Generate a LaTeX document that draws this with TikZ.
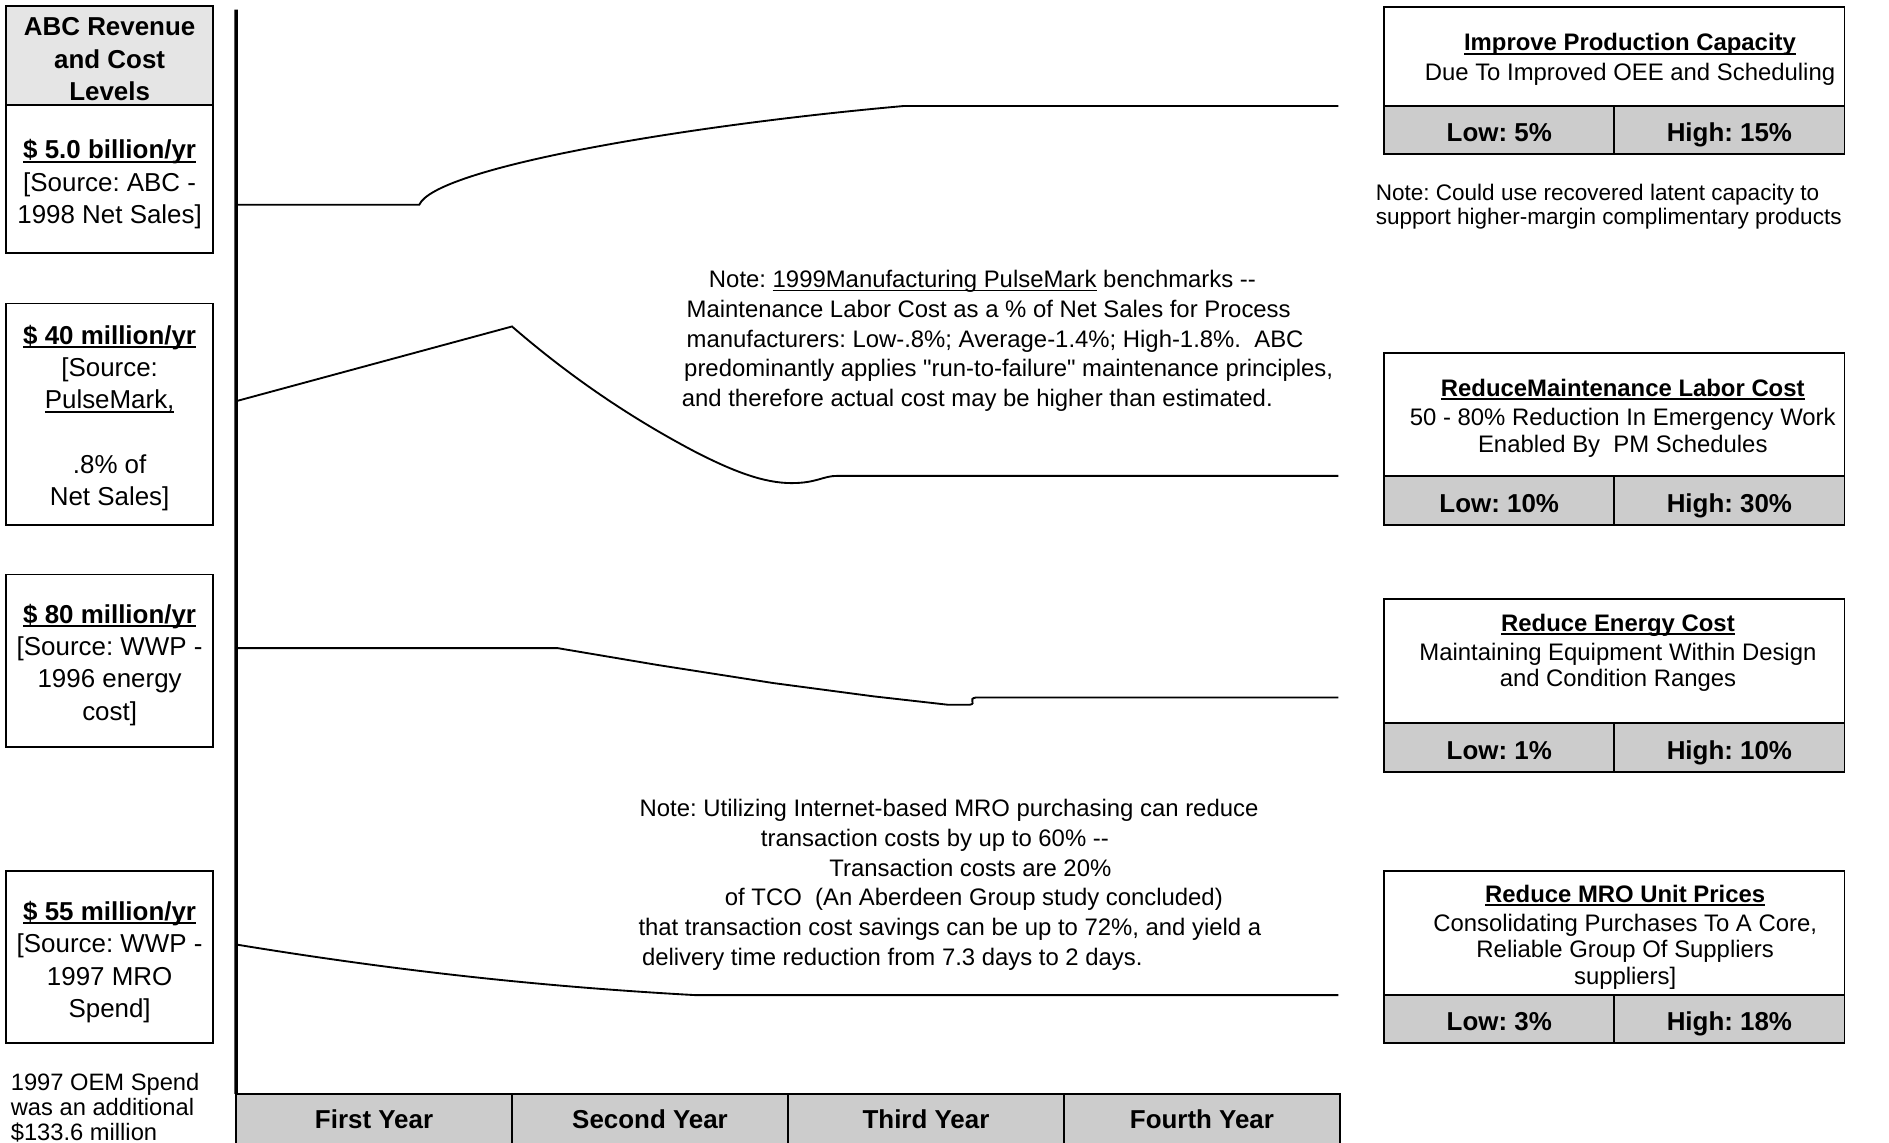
\documentclass[tikz,border=0pt]{standalone}
\usepackage{fontspec}
\setmainfont{Liberation Sans}
\usetikzlibrary{positioning}
\frenchspacing
\definecolor{cellgray}{gray}{0.8}
\definecolor{headgray}{gray}{0.9}
\newcommand{\bigsz}{\fontsize{15.3}{19.1}\selectfont}
\newcommand{\goalsz}{\fontsize{14.1}{15.8}\selectfont}
\newcommand{\notesz}{\fontsize{14.1}{17.6}\selectfont}
\newcommand{\undl}[1]{\leavevmode\setbox0\hbox{#1}\rlap{\rule[-2.3pt]{\wd0}{1.1pt}}\box0\relax}

\begin{document}
\begin{tikzpicture}[x=0.025cm,y=-0.025cm,
    every node/.style={inner sep=0pt,outer sep=0pt,align=center},
    levelbox/.style={draw,line width=1pt,minimum width=4.3cm},
    leveltext/.style={font=\bigsz},
    goalbox/.style={draw,line width=1pt,minimum width=9.55cm},
    goaltext/.style={font=\goalsz},
    pctcell/.style={draw,line width=1pt,fill=cellgray,minimum width=4.775cm,text height=13.8pt,text depth=0pt,font=\bigsz\bfseries},
    yearcell/.style={draw,line width=1pt,fill=cellgray,minimum width=5.725cm,minimum height=1.05cm,text height=11pt,text depth=0pt,font=\bigsz\bfseries},
    trend/.style={line width=1.1pt},
    note/.style={align=left,anchor=west}]
\useasboundingbox (0,0) rectangle (1568,948);

\node[levelbox,fill=headgray,minimum height=2.05cm] (head) at (91,46) {};
\node[leveltext,font=\bigsz\bfseries] (headtext) at ([yshift=-2.2pt]head.center) {ABC Revenue\\and Cost\\Levels};
\node[levelbox,minimum height=3.075cm,below=0pt of head] (sales) {};
\node[leveltext] (salestext) at ([yshift=-3.2pt]sales.center) {\undl{\textbf{\$ 5.0 billion/yr}}\\{}[Source: ABC -\\1998 Net Sales]};
\node[levelbox,minimum height=4.6cm] (labor) at (91,344) {};
\node[leveltext] (labortext) at ([yshift=-2.2pt]labor.center) {\undl{\textbf{\$ 40 million/yr}}\\{}[Source:\\\undl{PulseMark,}\\\mbox{}\\.8\% of\\Net Sales]};
\node[levelbox,minimum height=3.575cm] (energy) at (91,548.5) {};
\node[leveltext] (energytext) at ([yshift=-2.4pt]energy.center) {\undl{\textbf{\$ 80 million/yr}}\\{}[Source: WWP -\\1996 energy\\cost]};
\node[levelbox,minimum height=3.575cm] (mro) at (91,794.5) {};
\node[leveltext] (mrotext) at ([yshift=-2.8pt]mro.center) {\undl{\textbf{\$ 55 million/yr}}\\{}[Source: WWP -\\1997 MRO\\Spend]};
\node[note,font=\fontsize{14}{14.8}\selectfont] (oem) at (9,919.5) {1997 OEM Spend\\was an additional\\\$133.6 million};

\node[yearcell] (y1) at (310.5,929) {First Year};
\node[yearcell,right=0pt of y1] (y2) {Second Year};
\node[yearcell,right=0pt of y2] (y3) {Third Year};
\node[yearcell,right=0pt of y3] (y4) {Fourth Year};
\coordinate (axtop) at (196,8);
\draw[line width=2pt] (axtop) -- (y1.north west);

\coordinate (s0) at (196,170);
\coordinate (s1) at (1111,88);
\coordinate (l0) at (196,333);
\coordinate (l1) at (1111,395);
\coordinate (e0) at (196,538);
\coordinate (e1) at (1111,579);
\coordinate (m0) at (196,784);
\coordinate (m1) at (1111,826);
\draw[trend] (s0) -- (348,170) .. controls (361,140) and (560,105) .. (750,88) -- (s1);
\draw[trend] (l0) -- (425,271) .. controls (470,310) and (520,345) .. (577,375)
    .. controls (610,392) and (635,401) .. (657,401) .. controls (678,401) and (683,395) .. (695,395) -- (l1);
\draw[trend] (e0) -- (463,538) -- (546,552) -- (642,567) -- (725,578) -- (787,585) -- (805,585)
    .. controls (811,584) and (803,580) .. (810,579) -- (e1);
\draw[trend] (m0) .. controls (330,806) and (450,819) .. (577,826) -- (m1);

\node[note,font=\notesz] (benchnote) at (566,283) {\hspace*{16pt}Note: \undl{1999Manufacturing PulseMark} benchmarks -{}-\\\hspace*{2.8pt}Maintenance Labor Cost as a \% of Net Sales for Process\\\hspace*{2.8pt}manufacturers: Low-.8\%; Average-1.4\%; High-1.8\%.\ \ ABC\\\hspace*{1.4pt}predominantly applies \textquotedbl run-to-failure\textquotedbl\ maintenance principles,\\and therefore actual cost may be higher than estimated.};
\node[note,font=\notesz] (mronote) at (530,734.5) {\hspace*{0.7pt}Note: Utilizing Internet-based MRO purchasing can reduce\\\hspace*{72.3pt}transaction costs by up to 60\% -{}-\\\hspace*{112.7pt}Transaction costs are 20\%\\\hspace*{51pt}of TCO\ \ (An Aberdeen Group study concluded)\\that transaction cost savings can be up to 72\%, and yield a\\\hspace*{2.1pt}delivery time reduction from 7.3 days to 2 days.};

\node[goalbox,minimum height=2.05cm] (cap) at (1340,47) {};
\node[goaltext] (captext) at (1353,49.5) {\undl{\textbf{Improve Production Capacity}}\\[2pt]Due To Improved OEE and Scheduling};
\node[pctcell,minimum height=1cm,below right=0pt and 0pt of cap.south west] (caplow) {Low: 5\%};
\node[pctcell,minimum height=1cm,right=0pt of caplow] (caphigh) {High: 15\%};
\node[note,font=\fontsize{13.3}{14.2}\selectfont] (latentnote) at (1142,171.5) {Note: Could use recovered latent capacity to\\support higher-margin complimentary products};

\node[goalbox,minimum height=2.55cm] (maint) at (1340,344) {};
\node[goaltext] (mainttext) at (1347,347) {\undl{\textbf{ReduceMaintenance Labor Cost}}\\[1.2pt]50 - 80\% Reduction In Emergency Work\\Enabled By\ \ PM Schedules};
\node[pctcell,minimum height=1.025cm,below right=0pt and 0pt of maint.south west] (maintlow) {Low: 10\%};
\node[pctcell,minimum height=1.025cm,right=0pt of maintlow] (mainthigh) {High: 30\%};

\node[goalbox,minimum height=2.575cm] (power) at (1340,548.5) {};
\node[goaltext] (powertext) at (1343,542) {\undl{\textbf{Reduce Energy Cost}}\\[1.2pt]Maintaining Equipment Within Design\\and Condition Ranges};
\node[pctcell,minimum height=1.025cm,below right=0pt and 0pt of power.south west] (powerlow) {Low: 1\%};
\node[pctcell,minimum height=1.025cm,right=0pt of powerlow] (powerhigh) {High: 10\%};

\node[goalbox,minimum height=2.575cm] (price) at (1340,774.5) {};
\node[goaltext] (pricetext) at (1349,778) {\undl{\textbf{Reduce MRO Unit Prices}}\\[1.2pt]Consolidating Purchases To A Core,\\Reliable Group Of Suppliers\\suppliers]};
\node[pctcell,minimum height=1cm,below right=0pt and 0pt of price.south west] (pricelow) {Low: 3\%};
\node[pctcell,minimum height=1cm,right=0pt of pricelow] (pricehigh) {High: 18\%};
\end{tikzpicture}
\end{document}
